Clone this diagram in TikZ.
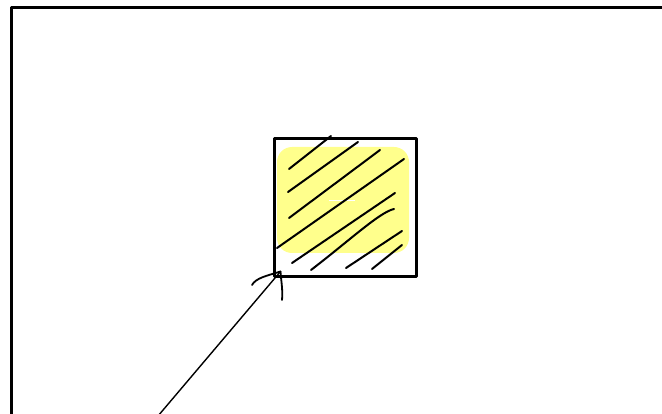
\documentclass[tikz,border=0pt]{standalone}
\usepackage{tikz}
\usetikzlibrary{positioning}
\definecolor{hilite}{RGB}{255,255,140}

\begin{document}
\begin{tikzpicture}[
  x=1pt, y=-1pt,
  frame/.style={line width=3pt, line cap=round, line join=round},
  hatch/.style={line width=2pt, line cap=round},
  arr/.style={line width=1.4pt, line cap=round}
]
\useasboundingbox (0,0) rectangle (662,414);
% outer frame, runs off the page
\draw[frame] (11,420) -- (11,7.5) -- (670,7.5);
% yellow patch
\node (patch) at (343,200) [fill=hilite, rounded corners=15pt,
  minimum width=132pt, minimum height=106pt, inner sep=0pt] {};
\draw[white, line width=1pt] (329,201) -- (355,201);
% hatching
\foreach \xa/\ya/\xb/\yb in {289/169/331/136, 288/192/358/142,
    289/218/380/150, 277/248/404/159, 292/263/395/193,
    346/268/402/231, 372/269/402/245}
  \draw[hatch] (\xa,\ya) -- (\xb,\yb);
\draw[hatch] (311,270) .. controls (350,240) and (380,212) .. (394,209);
% square
\node (box) at (345,207.5) [draw, frame, minimum width=142pt,
  minimum height=137.5pt, inner sep=0pt] {};
% arrow
\coordinate (tail) at (158,416);
\coordinate (tip) at (280.5,271.5);
\draw[arr] (tail) -- (tip);
\draw[arr, line width=1.8pt] (252,285) .. controls (256,278) and (266,276) .. (tip);
\draw[arr, line width=1.8pt] (282,300) .. controls (283,290) and (281,280) .. (tip);
\end{tikzpicture}
\end{document}
